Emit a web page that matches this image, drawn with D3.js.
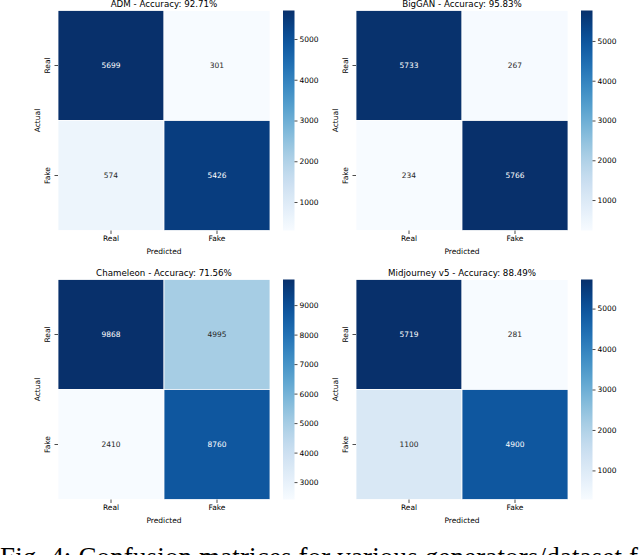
<!DOCTYPE html>
<html>
<head>
<meta charset="utf-8">
<script src="https://cdn.jsdelivr.net/npm/d3@7"></script>
<style>
  html, body { margin: 0; padding: 0; background: #fff; overflow: hidden; }
  svg { display: block; }
  .tick text { font-family: "DejaVu Sans", sans-serif; font-size: 7.5px; fill: #000; }
  .tick line { stroke: #000; stroke-width: 0.7; }
</style>
</head>
<body>
<div id="chart"></div>
<script>
// class labels, shared by every matrix
var classes = ['Real', 'Fake'];

var panelTitles = [
  'ADM - Accuracy: 92.71%',
  'BigGAN - Accuracy: 95.83%',
  'Chameleon - Accuracy: 71.56%',
  'Midjourney v5 - Accuracy: 88.49%'
];

// rows = actual, columns = predicted
var admMatrix = [[5699, 301], [574, 5426]];
var bigganMatrix = [[5733, 267], [234, 5766]];
var chameleonMatrix = [[9868, 4995], [2410, 8760]];
var midjourneyMatrix = [[5719, 281], [1100, 4900]];

var admTicks = [1000, 2000, 3000, 4000, 5000];
var bigganTicks = [1000, 2000, 3000, 4000, 5000];
var chameleonTicks = [3000, 4000, 5000, 6000, 7000, 8000, 9000];
var midjourneyTicks = [1000, 2000, 3000, 4000, 5000];

var caption = 'Fig. 4: Confusion matrices for various generators/dataset f';

var W = 640, H = 555;
var svg = d3.select('#chart').append('svg').attr('width', W).attr('height', H);
var defs = svg.append('defs');

var mapW = 212, mapH = 220;

var panels = [
  { title: panelTitles[0], m: admMatrix, ticks: admTicks, x: 58, y: 10.5 },
  { title: panelTitles[1], m: bigganMatrix, ticks: bigganTicks, x: 356, y: 10.5 },
  { title: panelTitles[2], m: chameleonMatrix, ticks: chameleonTicks, x: 58, y: 279.5 },
  { title: panelTitles[3], m: midjourneyMatrix, ticks: midjourneyTicks, x: 356, y: 279.5 }
];

function drawPanel(p, idx) {
  var g = svg.append('g').attr('transform', 'translate(' + p.x + ',' + p.y + ')');
  var flat = d3.merge(p.m);
  var color = d3.scaleSequential(d3.interpolateBlues).domain(d3.extent(flat));

  var x = d3.scaleBand().domain(classes).range([0, mapW]);
  var y = d3.scaleBand().domain(classes).range([0, mapH]);

  var cells = [];
  p.m.forEach(function(row, i) {
    row.forEach(function(v, j) {
      cells.push({ actual: classes[i], pred: classes[j], value: v });
    });
  });

  g.selectAll('rect.cell').data(cells).enter().append('rect')
    .attr('class', 'cell')
    .attr('x', function(d) { return x(d.pred); })
    .attr('y', function(d) { return y(d.actual); })
    .attr('width', x.bandwidth())
    .attr('height', y.bandwidth())
    .attr('fill', function(d) { return color(d.value); })
    .attr('stroke', '#fff')
    .attr('stroke-width', 0.8);

  // seaborn style: light text on dark cells
  g.selectAll('text.annot').data(cells).enter().append('text')
    .attr('class', 'annot')
    .attr('x', function(d) { return x(d.pred) + x.bandwidth() / 2; })
    .attr('y', function(d) { return y(d.actual) + y.bandwidth() / 2; })
    .attr('dy', '0.35em')
    .attr('text-anchor', 'middle')
    .style('font-family', '"DejaVu Sans", sans-serif')
    .style('font-size', '7.5px')
    .attr('fill', function(d) {
      var c = d3.rgb(color(d.value));
      var lum = [c.r, c.g, c.b].map(function(u) {
        u /= 255;
        return u <= 0.03928 ? u / 12.92 : Math.pow((u + 0.055) / 1.055, 2.4);
      });
      var l = 0.2126 * lum[0] + 0.7152 * lum[1] + 0.0722 * lum[2];
      return l > 0.408 ? '#262626' : '#fff';
    })
    .text(function(d) { return d.value; });

  var xAxis = g.append('g')
    .attr('transform', 'translate(0,' + mapH + ')')
    .call(d3.axisBottom(x).tickSize(3.5).tickPadding(2));
  xAxis.select('.domain').remove();

  var yAxis = g.append('g')
    .call(d3.axisLeft(y).tickSize(3.5).tickPadding(2));
  yAxis.select('.domain').remove();
  yAxis.selectAll('.tick text')
    .attr('text-anchor', 'middle')
    .attr('x', 0).attr('dy', 0)
    .attr('transform', 'translate(-8,0) rotate(-90)');

  g.append('text')
    .attr('x', mapW / 2).attr('y', mapH + 23.5)
    .attr('text-anchor', 'middle')
    .style('font-family', '"DejaVu Sans", sans-serif')
    .style('font-size', '7.5px')
    .text('Predicted');

  g.append('text')
    .attr('transform', 'translate(-18,' + (mapH / 2) + ') rotate(-90)')
    .attr('text-anchor', 'middle')
    .style('font-family', '"DejaVu Sans", sans-serif')
    .style('font-size', '7.5px')
    .text('Actual');

  g.append('text')
    .attr('x', mapW / 2).attr('y', -4)
    .attr('text-anchor', 'middle')
    .style('font-family', '"DejaVu Sans", sans-serif')
    .style('font-size', '8.7px')
    .text(p.title);

  // colorbar
  var cbX = mapW + 13, cbW = 11.5;
  var gradId = 'grad' + idx;
  var grad = defs.append('linearGradient').attr('id', gradId)
    .attr('x1', 0).attr('y1', 1).attr('x2', 0).attr('y2', 0);
  d3.range(0, 1.0001, 0.05).forEach(function(t) {
    grad.append('stop').attr('offset', t).attr('stop-color', d3.interpolateBlues(t));
  });
  g.append('rect')
    .attr('x', cbX).attr('y', 0)
    .attr('width', cbW).attr('height', mapH)
    .attr('fill', 'url(#' + gradId + ')');

  var cbScale = d3.scaleLinear().domain(color.domain()).range([mapH, 0]);
  var cbAxis = g.append('g')
    .attr('transform', 'translate(' + (cbX + cbW) + ',0)')
    .call(d3.axisRight(cbScale).tickValues(p.ticks).tickFormat(d3.format('d'))
      .tickSize(3).tickPadding(2));
  cbAxis.select('.domain').remove();
}

panels.forEach(drawPanel);

svg.append('text')
  .attr('x', 0).attr('y', 566)
  .attr('textLength', 638)
  .attr('lengthAdjust', 'spacing')
  .style('font-family', '"Liberation Serif", serif')
  .style('font-size', '27px')
  .attr('fill', '#000')
  .text(caption);
</script>
</body>
</html>
